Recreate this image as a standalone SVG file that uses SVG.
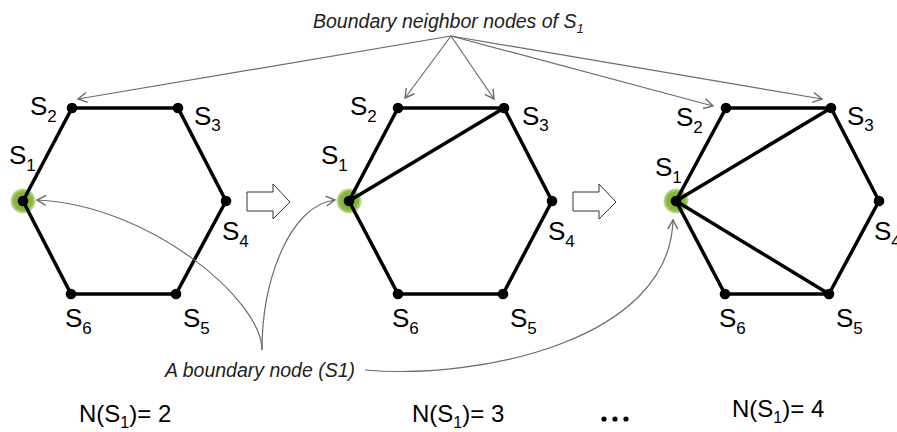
<svg xmlns="http://www.w3.org/2000/svg" width="897" height="432" viewBox="0 0 897 432">
<style>
.edge{stroke:#000;stroke-width:3.5;fill:none;stroke-linecap:round;stroke-linejoin:round}
.dot{fill:#000}
.glow{fill:url(#g)}
.lbl{font-family:"Liberation Sans",Arial,sans-serif;font-size:26px;fill:#000}
.sub{font-size:17px}
.note{font-family:"Liberation Sans",Arial,sans-serif;font-size:19.5px;font-style:italic;fill:#222}
.cnt{font-family:"Liberation Sans",Arial,sans-serif;font-size:24px;fill:#000}
.csub{font-size:16px}
.conn{stroke:#6b6b6b;stroke-width:1.2;fill:none;marker-end:url(#ah)}
.blk{fill:#fff;stroke:#333;stroke-width:1}
</style>
<defs>
<radialGradient id="g" cx="0.5" cy="0.5" r="0.5">
<stop offset="0" stop-color="#7aa82c"/>
<stop offset="0.75" stop-color="#8ab840"/>
<stop offset="1" stop-color="#9cc55a" stop-opacity="0.55"/>
</radialGradient>
<marker id="ah" markerUnits="userSpaceOnUse" markerWidth="12" markerHeight="12" refX="9" refY="5" orient="auto" overflow="visible">
<path d="M0,0 L9,5 L0,10" fill="none" stroke="#6b6b6b" stroke-width="1.4"/>
</marker>
</defs>

<g id="hex1">
<circle class="glow" cx="23" cy="201" r="12.5"/>
<polygon class="edge" points="23,201 72,108 178,108 226,201 176,294 71,294"/>
<circle class="dot" cx="23" cy="201" r="5.3"/>
<circle class="dot" cx="72" cy="108" r="5.3"/>
<circle class="dot" cx="178" cy="108" r="5.3"/>
<circle class="dot" cx="226" cy="201" r="5.3"/>
<circle class="dot" cx="176" cy="294" r="5.3"/>
<circle class="dot" cx="71" cy="294" r="5.3"/>
<text class="lbl" x="9" y="164">S<tspan class="sub" dy="7">1</tspan></text>
<text class="lbl" x="30" y="115">S<tspan class="sub" dy="7">2</tspan></text>
<text class="lbl" x="194" y="125">S<tspan class="sub" dy="6">3</tspan></text>
<text class="lbl" x="222" y="240">S<tspan class="sub" dy="7">4</tspan></text>
<text class="lbl" x="183" y="327">S<tspan class="sub" dy="7">5</tspan></text>
<text class="lbl" x="65" y="327">S<tspan class="sub" dy="7">6</tspan></text>
</g>

<g id="hex2">
<circle class="glow" cx="349" cy="201" r="12.5"/>
<polygon class="edge" points="349,201 398,108 504,108 552,201 503,294 398,294"/>
<line class="edge" x1="349" y1="201" x2="504" y2="108"/>
<circle class="dot" cx="349" cy="201" r="5.3"/>
<circle class="dot" cx="398" cy="108" r="5.3"/>
<circle class="dot" cx="504" cy="108" r="5.3"/>
<circle class="dot" cx="552" cy="201" r="5.3"/>
<circle class="dot" cx="503" cy="294" r="5.3"/>
<circle class="dot" cx="398" cy="294" r="5.3"/>
<text class="lbl" x="321" y="164">S<tspan class="sub" dy="7">1</tspan></text>
<text class="lbl" x="350" y="115">S<tspan class="sub" dy="7">2</tspan></text>
<text class="lbl" x="522" y="125">S<tspan class="sub" dy="6">3</tspan></text>
<text class="lbl" x="548" y="240">S<tspan class="sub" dy="7">4</tspan></text>
<text class="lbl" x="510" y="327">S<tspan class="sub" dy="7">5</tspan></text>
<text class="lbl" x="392" y="327">S<tspan class="sub" dy="7">6</tspan></text>
</g>

<g id="hex3">
<circle class="glow" cx="676" cy="201" r="12.5"/>
<polygon class="edge" points="676,201 726,108 831,108 879,201 829,294 725,294"/>
<line class="edge" x1="676" y1="201" x2="831" y2="108"/>
<line class="edge" x1="676" y1="201" x2="829" y2="294"/>
<circle class="dot" cx="676" cy="201" r="5.3"/>
<circle class="dot" cx="726" cy="108" r="5.3"/>
<circle class="dot" cx="831" cy="108" r="5.3"/>
<circle class="dot" cx="879" cy="201" r="5.3"/>
<circle class="dot" cx="829" cy="294" r="5.3"/>
<circle class="dot" cx="725" cy="294" r="5.3"/>
<text class="lbl" x="655" y="176">S<tspan class="sub" dy="7">1</tspan></text>
<text class="lbl" x="676" y="126">S<tspan class="sub" dy="7">2</tspan></text>
<text class="lbl" x="847" y="125">S<tspan class="sub" dy="6">3</tspan></text>
<text class="lbl" x="874" y="240">S<tspan class="sub" dy="7">4</tspan></text>
<text class="lbl" x="836" y="327">S<tspan class="sub" dy="7">5</tspan></text>
<text class="lbl" x="719" y="327">S<tspan class="sub" dy="7">6</tspan></text>
</g>

<g id="step-arrows">
<path class="blk" d="M247,192 H273 V184 L290,202 L273,219 V211 H247 Z"/>
<path class="blk" d="M573,192 H599 V184 L616,202 L599,219 V211 H573 Z"/>
</g>

<g id="title-label">
<text class="note" x="313" y="28">Boundary neighbor nodes of S<tspan font-size="13px" dy="5">1</tspan></text>
</g>
<g id="boundary-label">
<text class="note" x="165" y="377">A boundary node (S1)</text>
</g>

<g id="connectors">
<line class="conn" x1="451" y1="36" x2="78" y2="99"/>
<line class="conn" x1="451" y1="36" x2="405" y2="98"/>
<line class="conn" x1="451" y1="36" x2="494" y2="99"/>
<line class="conn" x1="451" y1="36" x2="713" y2="106"/>
<line class="conn" x1="451" y1="36" x2="822" y2="99"/>
<path class="conn" d="M262,350 C262,300 150,205 37,200"/>
<path class="conn" d="M262,350 C262,280 290,205 335,200"/>
<path class="conn" d="M365,370 C480,380 670,340 673,220"/>
</g>

<g id="counts">
<text class="cnt" x="79" y="422">N(S<tspan class="csub" dy="6">1</tspan><tspan dy="-6">)= 2</tspan></text>
<text class="cnt" x="412" y="422">N(S<tspan class="csub" dy="6">1</tspan><tspan dy="-6">)= 3</tspan></text>
<text class="cnt" x="732" y="417">N(S<tspan class="csub" dy="6">1</tspan><tspan dy="-6">)= 4</tspan></text>
<circle cx="604" cy="419" r="2.6" fill="#000"/>
<circle cx="615" cy="419" r="2.6" fill="#000"/>
<circle cx="626" cy="419" r="2.6" fill="#000"/>
</g>
</svg>
